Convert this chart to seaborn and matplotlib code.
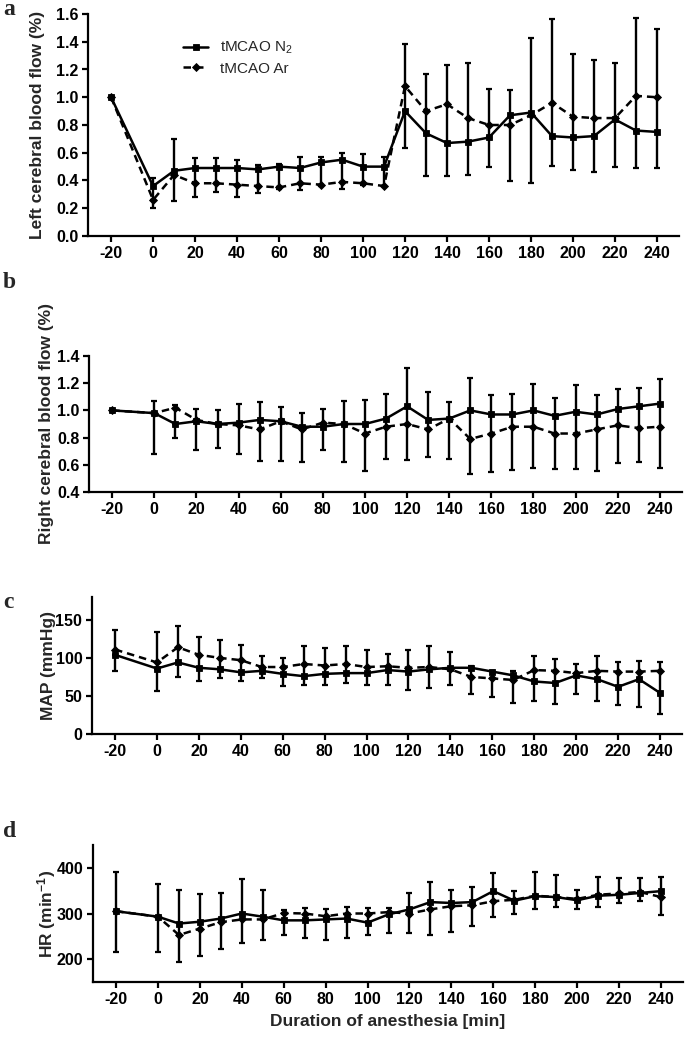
import numpy as np
import matplotlib
matplotlib.use("Agg")
import matplotlib.pyplot as plt
import matplotlib.transforms as mtransforms
import seaborn as sns

# ---------------- data ----------------
minutes = [-20, 0, 10, 20, 30, 40, 50, 60, 70, 80, 90, 100, 110, 120,
           130, 140, 150, 160, 170, 180, 190, 200, 210, 220, 230, 240]
x_ticks = [-20, 0, 20, 40, 60, 80, 100, 120, 140, 160, 180, 200, 220, 240]
group_labels = ["tMCAO N$_2$", "tMCAO Ar"]

# a: left cerebral blood flow
lcbf_n2 = [1.00, 0.36, 0.47, 0.49, 0.49, 0.49, 0.48, 0.50, 0.49, 0.53, 0.55, 0.50, 0.50,
           0.90, 0.74, 0.67, 0.68, 0.71, 0.87, 0.89, 0.72, 0.71, 0.72, 0.84, 0.76, 0.75]
lcbf_ar = [1.00, 0.26, 0.44, 0.38, 0.38, 0.37, 0.36, 0.35, 0.38, 0.37, 0.39, 0.38, 0.36,
           1.08, 0.90, 0.95, 0.85, 0.80, 0.80, 0.87, 0.96, 0.86, 0.85, 0.85, 1.01, 1.00]
lcbf_top = [1.00, 0.42, 0.70, 0.56, 0.56, 0.55, 0.51, 0.52, 0.57, 0.57, 0.60, 0.59, 0.57,
            1.385, 1.17, 1.23, 1.25, 1.06, 1.05, 1.43, 1.566, 1.31, 1.27, 1.25, 1.57, 1.49]
lcbf_bot = [1.00, 0.20, 0.25, 0.28, 0.32, 0.28, 0.31, 0.34, 0.33, 0.36, 0.34, 0.37, 0.36,
            0.636, 0.43, 0.43, 0.44, 0.50, 0.395, 0.38, 0.506, 0.475, 0.46, 0.50, 0.49, 0.49]

# b: right cerebral blood flow
rcbf_n2 = [1.00, 0.98, 0.90, 0.92, 0.90, 0.91, 0.93, 0.92, 0.88, 0.88, 0.90, 0.90, 0.94,
           1.03, 0.93, 0.94, 1.00, 0.97, 0.97, 1.00, 0.96, 0.99, 0.97, 1.01, 1.03, 1.05]
rcbf_ar = [1.00, 0.98, 1.02, 0.93, 0.90, 0.89, 0.86, 0.92, 0.86, 0.91, 0.90, 0.83, 0.88,
           0.90, 0.86, 0.94, 0.79, 0.83, 0.88, 0.88, 0.83, 0.83, 0.86, 0.89, 0.87, 0.88]
rcbf_top = [1.00, 1.07, 1.04, 1.01, 1.00, 1.05, 1.065, 1.025, 0.98, 1.01, 1.07, 1.08, 1.12,
            1.31, 1.135, 1.06, 1.24, 1.115, 1.12, 1.196, 1.09, 1.19, 1.115, 1.16, 1.164, 1.23]
rcbf_bot = [1.00, 0.68, 0.80, 0.71, 0.72, 0.68, 0.63, 0.63, 0.62, 0.71, 0.62, 0.556, 0.64,
            0.635, 0.66, 0.64, 0.535, 0.55, 0.56, 0.576, 0.57, 0.57, 0.556, 0.61, 0.62, 0.58]

# c: mean arterial pressure
map_n2 = [104, 86, 94, 87, 85, 81, 83, 79, 76, 79, 80, 80, 84,
          82, 85, 87, 87, 82, 77, 69, 67, 77, 72, 62, 72, 54]
map_ar = [111, 94, 114, 104, 100, 97, 88, 88, 92, 90, 92, 88, 89,
          87, 88, 85, 75, 73, 71, 84, 83, 80, 83, 82, 82, 83]
map_top = [137, 134, 142, 128, 123, 117, 102, 100, 115, 113, 116, 111, 105,
           110, 116, 108, 89, 83, 83, 102, 98, 92, 102, 95, 96, 95]
map_bot = [83, 57, 75, 70, 73, 70, 73, 63, 64, 64, 67, 64, 64,
           58, 60, 64, 53, 48, 41, 44, 40, 52, 44, 38, 36, 26]

# d: heart rate
hr_n2 = [305, 293, 278, 282, 289, 300, 293, 285, 285, 287, 289, 280, 298,
         309, 325, 323, 325, 349, 328, 338, 336, 329, 339, 341, 345, 349]
hr_ar = [305, 293, 253, 267, 281, 287, 287, 301, 300, 294, 300, 300, 303,
         300, 309, 316, 318, 327, 330, 339, 336, 332, 341, 344, 347, 336]
hr_top = [391, 365, 351, 343, 344, 376, 351, 307, 313, 310, 314, 312, 313,
          345, 368, 351, 359, 388, 349, 391, 385, 352, 379, 378, 378, 379]
hr_bot = [216, 216, 194, 206, 222, 236, 242, 252, 246, 241, 246, 252, 258,
          257, 253, 260, 273, 292, 299, 309, 314, 310, 315, 322, 327, 296]

panels = [
    dict(letter="a", n2=lcbf_n2, ar=lcbf_ar, top=lcbf_top, bot=lcbf_bot,
         ylabel="Left cerebral blood flow (%)", ylim=(0, 1.6),
         yticks=[0.0, 0.2, 0.4, 0.6, 0.8, 1.0, 1.2, 1.4, 1.6], fmt="{:.1f}"),
    dict(letter="b", n2=rcbf_n2, ar=rcbf_ar, top=rcbf_top, bot=rcbf_bot,
         ylabel="Right cerebral blood flow (%)", ylim=(0.4, 1.4),
         yticks=[0.4, 0.6, 0.8, 1.0, 1.2, 1.4], fmt="{:.1f}"),
    dict(letter="c", n2=map_n2, ar=map_ar, top=map_top, bot=map_bot,
         ylabel="MAP (mmHg)", ylim=(0, 180),
         yticks=[0, 50, 100, 150], fmt="{:d}"),
    dict(letter="d", n2=hr_n2, ar=hr_ar, top=hr_top, bot=hr_bot,
         ylabel="HR (min$^{-1}$)", ylim=(150, 450),
         yticks=[200, 300, 400], fmt="{:d}"),
]

# ---------------- layout (pixels) ----------------
W, H = 685, 1037
boxes = [(88, 679, 14, 236), (89, 682, 356, 492), (92, 682, 597, 734), (93, 683, 845, 982)]
ylabel_x = [45.5, 54.5, 56.5, 58.5]
letter_y = [15, 288, 608, 837]

sns.set_theme(style="ticks")
plt.rcParams.update({
    "font.family": ["Liberation Sans", "DejaVu Sans"],
    "font.weight": "bold",
    "axes.labelweight": "bold",
    "mathtext.default": "regular",
    "axes.unicode_minus": False,
    "axes.linewidth": 1.6,
    "xtick.major.width": 1.6,
    "ytick.major.width": 1.6,
    "xtick.major.size": 4,
    "ytick.major.size": 4,
    "xtick.color": "black",
    "ytick.color": "black",
    "axes.edgecolor": "black",
})

fig = plt.figure(figsize=(W / 100, H / 100), dpi=100)


def split_err(m_self, m_other, top, bot, self_wins_tie):
    m_self = np.asarray(m_self, float)
    m_other = np.asarray(m_other, float)
    top = np.asarray(top, float)
    bot = np.asarray(bot, float)
    upper = (m_self >= m_other) if self_wins_tie else (m_self > m_other)
    up = np.where(upper, top - m_self, 0.0)
    dn = np.where(upper, m_self - m_other, m_self - bot)
    return np.clip(dn, 0, None), np.clip(up, 0, None)


for i, p in enumerate(panels):
    l, r, t_, b_ = boxes[i]
    ax = fig.add_axes([l / W, 1 - b_ / H, (r - l) / W, (b_ - t_) / H])

    n2_dn, n2_up = split_err(p["n2"], p["ar"], p["top"], p["bot"], True)
    ar_dn, ar_up = split_err(p["ar"], p["n2"], p["top"], p["bot"], False)

    ax.errorbar(minutes, p["n2"], yerr=[n2_dn, n2_up], fmt="none", ecolor="black",
                elinewidth=1.7, capsize=1.9, capthick=1.6, zorder=2)
    ax.errorbar(minutes, p["ar"], yerr=[ar_dn, ar_up], fmt="none", ecolor="black",
                elinewidth=1.7, capsize=1.9, capthick=1.6, zorder=2)

    lab_n2 = group_labels[0] if i == 0 else None
    lab_ar = group_labels[1] if i == 0 else None
    sns.lineplot(x=minutes, y=p["n2"], ax=ax, color="black", linewidth=1.8,
                 marker="s", markersize=5.0, markeredgecolor="black",
                 markeredgewidth=0.6, label=lab_n2, zorder=3, errorbar=None)
    sns.lineplot(x=minutes, y=p["ar"], ax=ax, color="black", linewidth=1.8,
                 linestyle=(0, (3, 2)), marker="D", markersize=4.0,
                 markeredgecolor="black", markeredgewidth=0.6, label=lab_ar,
                 zorder=3, errorbar=None)

    ax.set_xlim(-31, 250.5)
    ax.set_ylim(*p["ylim"])
    ax.set_xticks(x_ticks)
    ax.set_xticklabels([str(v) for v in x_ticks])
    ax.set_yticks(p["yticks"])
    ax.set_yticklabels([p["fmt"].format(v) for v in p["yticks"]])
    ax.tick_params(axis="both", labelsize=11.5, direction="out", pad=3)
    for lbl in ax.get_xticklabels() + ax.get_yticklabels():
        lbl.set_fontweight("bold")
    sns.despine(ax=ax)

    ax.set_ylabel(p["ylabel"], fontsize=12.5, fontweight="bold")
    trans = mtransforms.blended_transform_factory(fig.transFigure, ax.transAxes)
    ax.yaxis.set_label_coords(ylabel_x[i] / W, 0.5, transform=trans)

    if i == 0:
        ax.legend(loc="upper left", bbox_to_anchor=((183 - l) / (r - l), (b_ - 40) / (b_ - t_)),
                  frameon=False, handlelength=1.65, handletextpad=0.8,
                  borderpad=0, borderaxespad=0, labelspacing=0.35,
                  prop={"family": "Liberation Sans", "weight": "normal", "size": 11})
    else:
        leg = ax.get_legend()
        if leg is not None:
            leg.remove()

    if i == 3:
        ax.set_xlabel("Duration of anesthesia [min]", fontsize=12.5,
                      fontweight="bold", labelpad=5)

    fig.text(3 / W, 1 - letter_y[i] / H, p["letter"], fontsize=17,
             fontweight="bold", family="Liberation Serif", va="baseline", ha="left")

fig.savefig("out.png", dpi=100)
